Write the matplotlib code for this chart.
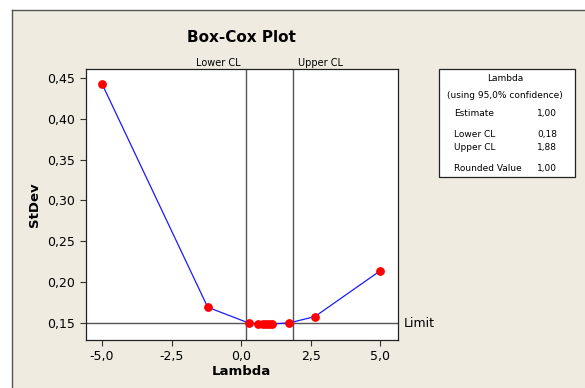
import matplotlib
matplotlib.use("Agg")
import matplotlib.pyplot as plt
from matplotlib.patches import Rectangle
from matplotlib.ticker import FuncFormatter

# data
lambdas = [-5.0, -1.2, 0.27, 0.61, 0.78, 0.91, 1.0, 1.12, 1.72, 2.65, 5.0]
stdevs = [0.4434, 0.169, 0.1497, 0.1488, 0.1486, 0.1485, 0.1484, 0.1486, 0.1497, 0.1575, 0.2138]
lower_cl = 0.18
upper_cl = 1.88
limit = 0.1496
x_ticks = [-5.0, -2.5, 0.0, 2.5, 5.0]
y_ticks = [0.15, 0.20, 0.25, 0.30, 0.35, 0.40, 0.45]
legend_rows = [("Estimate", "1,00"), ("Lower CL", "0,18"), ("Upper CL", "1,88"), ("Rounded Value", "1,00")]

W, H = 585, 388
fig = plt.figure(figsize=(W / 100, H / 100), dpi=100)
fig.patch.set_facecolor("white")

# beige panel with dark border on top/left
bg = Rectangle((12 / W, 0), 1 - 12 / W, 1 - 10 / H, transform=fig.transFigure,
               facecolor="#efebe1", edgecolor="none", zorder=-10)
fig.patches.append(bg)
fig.add_artist(plt.Line2D([12 / W, 12 / W], [0, 1 - 10 / H], transform=fig.transFigure, color="#555555", lw=1.0, zorder=-5))
fig.add_artist(plt.Line2D([12 / W, 1], [1 - 10 / H, 1 - 10 / H], transform=fig.transFigure, color="#555555", lw=1.0, zorder=-5))

ax = fig.add_axes([85.8 / W, 1 - 340 / H, (397.8 - 85.8) / W, (340 - 69.3) / H])
ax.set_zorder(2)
ax.set_facecolor("white")
ax.set_xlim(-5.58, 5.63)
ax.set_ylim(0.1288, 0.461)

ax.axvline(lower_cl, color="#555555", lw=1.0, zorder=1)
ax.axvline(upper_cl, color="#555555", lw=1.0, zorder=1)
ax.axhline(limit, color="#555555", lw=1.0, zorder=1)

ax.plot(lambdas, stdevs, color="#1a1aff", lw=0.9, zorder=2)
ax.plot(lambdas, stdevs, "o", color="#ff0000", ms=5.3, zorder=3)

ax.set_xticks(x_ticks)
ax.set_yticks(y_ticks)
ax.xaxis.set_major_formatter(FuncFormatter(lambda v, p: f"{v:.1f}".replace(".", ",")))
ax.yaxis.set_major_formatter(FuncFormatter(lambda v, p: f"{v:.2f}".replace(".", ",")))
ax.tick_params(direction="out", length=4, width=0.8, labelsize=9, color="#333333")
for s in ax.spines.values():
    s.set_linewidth(0.9)
    s.set_color("#222222")

ax.set_xlabel("Lambda", fontsize=9.5, fontweight="bold", labelpad=1)
ax.set_ylabel("StDev", fontsize=9.5, fontweight="bold", labelpad=5)

fig.text(241 / W, 1 - 37.7 / H, "Box-Cox Plot", fontsize=11, fontweight="bold", ha="center", va="center")
ax.text(lower_cl - 0.2, 1.005, "Lower CL", transform=ax.get_xaxis_transform(), ha="right", va="bottom", fontsize=7)
ax.text(upper_cl + 0.15, 1.005, "Upper CL", transform=ax.get_xaxis_transform(), ha="left", va="bottom", fontsize=7)
ax.text(1.018, limit, "Limit", transform=ax.get_yaxis_transform(), ha="left", va="center", fontsize=9)

# lambda info box
box = Rectangle((438.8 / W, 1 - 177 / H), (574.6 - 438.8) / W, (177 - 69.3) / H,
                transform=fig.transFigure, facecolor="white", edgecolor="#222222", lw=0.9, zorder=1)
fig.patches.append(box)
fig.text(505 / W, 1 - 78.3 / H, "Lambda", fontsize=6.5, ha="center", va="center")
fig.text(505 / W, 1 - 95.7 / H, "(using 95,0% confidence)", fontsize=6.5, ha="center", va="center")
for (name, val), y in zip(legend_rows, [113, 134.3, 147.7, 168.3]):
    fig.text(453.7 / W, 1 - y / H, name, fontsize=6.5, ha="left", va="center")
    fig.text(557 / W, 1 - y / H, val, fontsize=6.5, ha="right", va="center")

fig.savefig("out.png", dpi=100)
